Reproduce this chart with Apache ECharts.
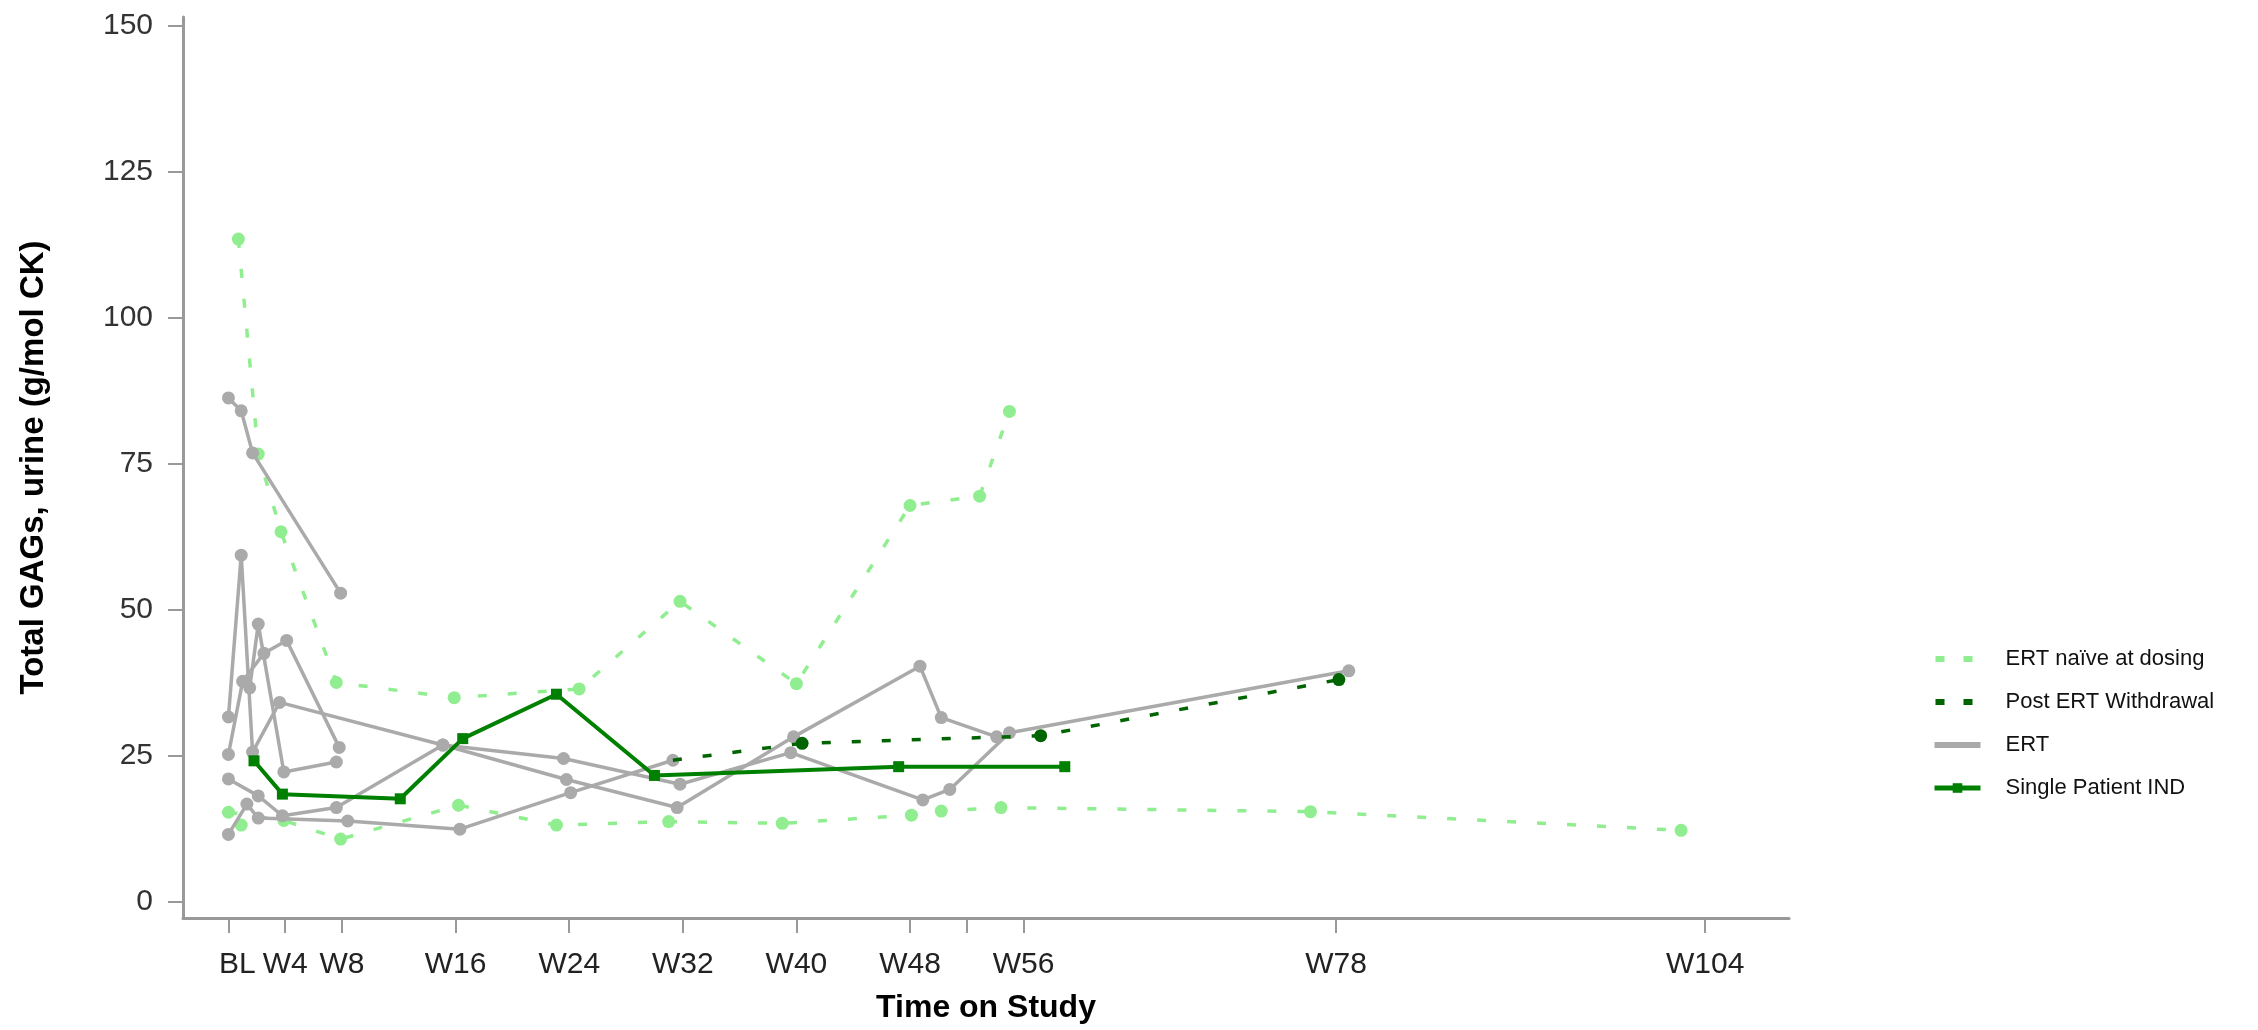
<!DOCTYPE html>
<html>
<head>
<meta charset="utf-8">
<script src="https://cdn.jsdelivr.net/npm/echarts@6/dist/echarts.min.js"></script>
<style>html,body{margin:0;padding:0;background:#fff;}#c{width:2258px;height:1030px;}</style>
</head>
<body>
<div id="c"></div>
<script>
// ---- axis ticks / labels ----
const xTickWeeks = [0, 4, 8, 16, 24, 32, 40, 48, 52, 56, 78, 104];
const xLabelWeeks = [0, 4, 8, 16, 24, 32, 40, 48, 56, 78, 104];
const xLabelText = ['BL', 'W4', 'W8', 'W16', 'W24', 'W32', 'W40', 'W48', 'W56', 'W78', 'W104'];
const yTicks = [0, 25, 50, 75, 100, 125, 150];

// ---- ERT naive at dosing (weeks / values) ----
const naiveA_weeks = [0.7, 2.1, 3.7, 7.6, 15.9, 24.7, 31.8, 40.0, 48.0, 52.9, 55.0];
const naiveA_vals  = [113.5, 76.7, 63.4, 37.6, 35.0, 36.5, 51.5, 37.4, 67.9, 69.5, 84.0];
const naiveB_weeks = [0, 3.9, 7.9, 16.2, 23.1, 31.0, 39.0, 48.1, 50.2, 54.4, 76.2, 102.3];
const naiveB_vals  = [15.4, 14.0, 10.8, 16.6, 13.2, 13.8, 13.5, 14.9, 15.6, 16.2, 15.5, 12.3];
const naiveC_weeks = [0.9];
const naiveC_vals  = [13.2];

// ---- ERT patients ----
const ertA_weeks = [0, 0.9, 1.7, 7.9];
const ertA_vals  = [86.3, 84.1, 76.9, 52.9];
const ertB_weeks = [0, 0.9, 1.7, 3.6, 15.1, 23.8, 31.6, 39.8, 48.7, 50.2, 54.1];
const ertB_vals  = [31.7, 59.4, 25.7, 34.2, 26.9, 21.0, 16.2, 28.3, 40.4, 31.6, 28.3];
const ertC_weeks = [0, 1.0, 2.5, 4.1, 7.8];
const ertC_vals  = [25.3, 37.8, 42.6, 44.8, 26.5];
const ertD_weeks = [1.5, 2.1, 3.9, 7.6];
const ertD_vals  = [36.7, 47.6, 22.3, 24.0];
const ertE_weeks = [0, 2.1, 3.8, 7.6, 15.1, 23.6, 31.8, 39.6, 48.9, 50.8, 55.0, 78.9];
const ertE_vals  = [21.1, 18.2, 14.8, 16.2, 26.9, 24.6, 20.2, 25.6, 17.5, 19.3, 29.0, 39.6];
const ertF_weeks = [0, 1.3, 2.1, 8.4, 16.3, 24.1, 31.3];
const ertF_vals  = [11.6, 16.8, 14.4, 13.9, 12.5, 18.75, 24.3];

// ---- Post ERT withdrawal (continues ertF) ----
const post_weeks = [31.3, 40.4, 57.2, 78.2];
const post_vals  = [24.3, 27.2, 28.5, 38.1];

// ---- Single Patient IND ----
const ind_weeks = [1.8, 3.8, 12.1, 16.5, 23.1, 30.0, 47.2, 58.9];
const ind_vals  = [24.2, 18.5, 17.7, 28.0, 35.6, 21.7, 23.2, 23.2];

const zip = (w, v) => w.map((x, i) => [x, v[i]]);

const FONT = 'Liberation Sans, Arial, sans-serif';
const NAIVE = '#90EE90', POST = '#006400', ERTC = '#AAAAAA', IND = '#008000';

function naiveSeries(w, v) {
  return { name: 'ERT naïve at dosing', type: 'line', data: zip(w, v), symbol: 'circle', symbolSize: 13,
    lineStyle: { color: NAIVE, width: 3.5, type: [9, 21] }, itemStyle: { color: NAIVE }, z: 2, emphasis: { disabled: true } };
}
function ertSeries(w, v) {
  return { name: 'ERT', type: 'line', data: zip(w, v), symbol: 'circle', symbolSize: 13,
    lineStyle: { color: ERTC, width: 3.5 }, itemStyle: { color: ERTC }, z: 3, emphasis: { disabled: true } };
}

const postData = zip(post_weeks, post_vals).map((p, i) => i === 0 ? { value: p, symbol: 'none' } : p);

const series = [
  naiveSeries(naiveA_weeks, naiveA_vals),
  naiveSeries(naiveB_weeks, naiveB_vals),
  naiveSeries(naiveC_weeks, naiveC_vals),
  ertSeries(ertA_weeks, ertA_vals),
  ertSeries(ertB_weeks, ertB_vals),
  ertSeries(ertC_weeks, ertC_vals),
  ertSeries(ertD_weeks, ertD_vals),
  ertSeries(ertE_weeks, ertE_vals),
  ertSeries(ertF_weeks, ertF_vals),
  { name: 'Post ERT Withdrawal', type: 'line', data: postData, symbol: 'circle', symbolSize: 13,
    lineStyle: { color: POST, width: 3.5, type: [9, 21] }, itemStyle: { color: POST }, z: 4, emphasis: { disabled: true } },
  { name: 'Single Patient IND', type: 'line', data: zip(ind_weeks, ind_vals), symbol: 'rect', symbolSize: 11,
    lineStyle: { color: IND, width: 4 }, itemStyle: { color: IND }, z: 5, emphasis: { disabled: true } }
];

const dashIcon = 'path://M0,0M46,12M1,3h9v6h-9zM29,3h9v6h-9z';
const lineIcon = 'path://M0,0M46,12M0,3h46v6h-46z';

const option = {
  animation: false,
  backgroundColor: '#fff',
  grid: { left: 183, top: 17, width: 1606, height: 901, containLabel: false },
  xAxis: {
    type: 'value', min: -3.2, max: 109.9,
    name: 'Time on Study', nameLocation: 'middle', nameGap: 74,
    nameTextStyle: { fontSize: 32, fontWeight: 'bold', color: '#000', fontFamily: FONT },
    splitLine: { show: false },
    axisLine: { show: true, onZero: false, lineStyle: { color: '#999', width: 3 } },
    axisTick: { show: true, customValues: xTickWeeks, length: 15, lineStyle: { color: '#999', width: 2 } },
    axisLabel: {
      customValues: xLabelWeeks, margin: 32, fontSize: 30, color: '#222', fontFamily: FONT,
      formatter: function (v) {
        const i = xLabelWeeks.indexOf(v);
        const t = i >= 0 ? xLabelText[i] : '';
        return v === 0 ? '{bl|' + t + '}' : t;
      },
      rich: { bl: { fontSize: 30, color: '#222', fontFamily: FONT, padding: [0, 0, 0, 18] } }
    }
  },
  yAxis: {
    type: 'value', min: -2.7, max: 151.5,
    name: 'Total GAGs, urine (g/mol CK)', nameLocation: 'middle', nameGap: 133,
    nameTextStyle: { fontSize: 33, fontWeight: 'bold', color: '#000', fontFamily: FONT },
    splitLine: { show: false },
    axisLine: { show: true, onZero: false, lineStyle: { color: '#999', width: 3 } },
    axisTick: { show: true, customValues: yTicks, length: 15, lineStyle: { color: '#999', width: 2 } },
    axisLabel: { customValues: yTicks, margin: 30, fontSize: 30, color: '#333', fontFamily: FONT }
  },
  legend: {
    orient: 'vertical', left: 1932, top: 648, padding: 0,
    itemWidth: 46, itemHeight: 12, itemGap: 21,
    itemStyle: { borderWidth: 0 },
    textStyle: { fontSize: 22, color: '#111', fontFamily: FONT, padding: [0, 0, 0, 20] },
    selectedMode: false,
    data: [
      { name: 'ERT naïve at dosing', icon: dashIcon },
      { name: 'Post ERT Withdrawal', icon: dashIcon },
      { name: 'ERT', icon: lineIcon },
      { name: 'Single Patient IND', lineStyle: { width: 5 } }
    ]
  },
  series: series
};

const chart = echarts.init(document.getElementById('c'), null, { renderer: 'canvas' });
chart.setOption(option);
</script>
</body>
</html>
